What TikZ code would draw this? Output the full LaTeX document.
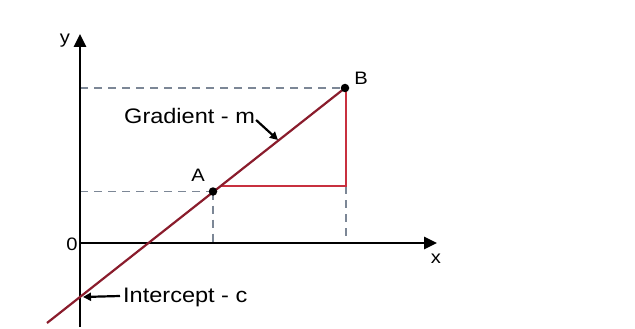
\documentclass[tikz,border=0pt]{standalone}
\usepackage{fontspec}
\setmainfont{Liberation Sans}
\newfontfamily\lab[FakeStretch=1.12]{Liberation Sans}
\usetikzlibrary{arrows.meta}
\definecolor{linecol}{HTML}{8A1C2C}
\definecolor{tricol}{HTML}{C8303F}
\definecolor{dashcol}{HTML}{7C8796}
\tikzset{
  axis/.style={line width=2.7pt,-{Triangle[length=13pt,width=12pt]}},
  guide/.style={dashcol,line width=1.5pt,dash pattern=on 8pt off 6pt},
  lab/.style={inner sep=0pt,font=\lab\fontsize{21}{25}\selectfont},
  small/.style={inner sep=0pt,font=\lab\fontsize{18}{21}\selectfont},
  pointer/.style={line width=2.2pt,-{Triangle[length=8pt,width=8pt]}},
  dot/.style={circle,fill=black,inner sep=0pt,minimum size=8.5pt}
}
\begin{document}
\begin{tikzpicture}[x=1pt,y=-1pt]
\useasboundingbox (0,0) rectangle (635,329);
\coordinate (O) at (80,243);
\coordinate (ybot) at (80,327);
\coordinate (ytop) at (80,34);
\coordinate (xend) at (437,243);
\coordinate (L0) at (47,323);
\coordinate (Bp) at (345,88);
\coordinate (Ap) at (213,191.5);
\coordinate (Yb) at (80,88);
\coordinate (Ya) at (80,191.5);
\coordinate (Xa) at (213,243);
\coordinate (Xb) at (346,243);
\coordinate (Cr) at (346,186);
\coordinate (Cl) at (219.5,186);
\coordinate (Ci) at (83,297);
\coordinate (Gt) at (278,140);
% guides
\draw[guide] (Yb) -- (Bp);
\draw[guide] (Ya) -- (Ap);
\draw[guide] (Ap) -- (Xa);
\draw[guide] (Cr) -- (Xb);
% axes
\draw[axis] (ybot) -- (ytop);
\draw[axis] (O) -- (xend);
% triangle
\draw[tricol,line width=2.2pt] (Cl) -- (Cr) -- (346,88);
% line
\draw[linecol,line width=2.2pt] (L0) -- (Bp);
\node[dot] (B) at (Bp) {};
\node[dot] (A) at (Ap) {};
% labels
\node[small] (ylab) at (65,41) {y};
\node[small] (xlab) at (436,259) {x};
\node[small] (zero) at (72,244) {0};
\node[small] (Blab) at (361,78) {B};
\node[small] (Alab) at (198,175) {A};
\node[lab,anchor=west] (grad) at (124,116) {Gradient - m};
\node[lab,anchor=west] (icpt) at (123,297) {Intercept - c};
\draw[pointer] (grad.east) ++(1,4) -- (Gt);
\draw[pointer] (icpt.west) ++(-3,-1) -- (Ci);
\end{tikzpicture}
\end{document}
